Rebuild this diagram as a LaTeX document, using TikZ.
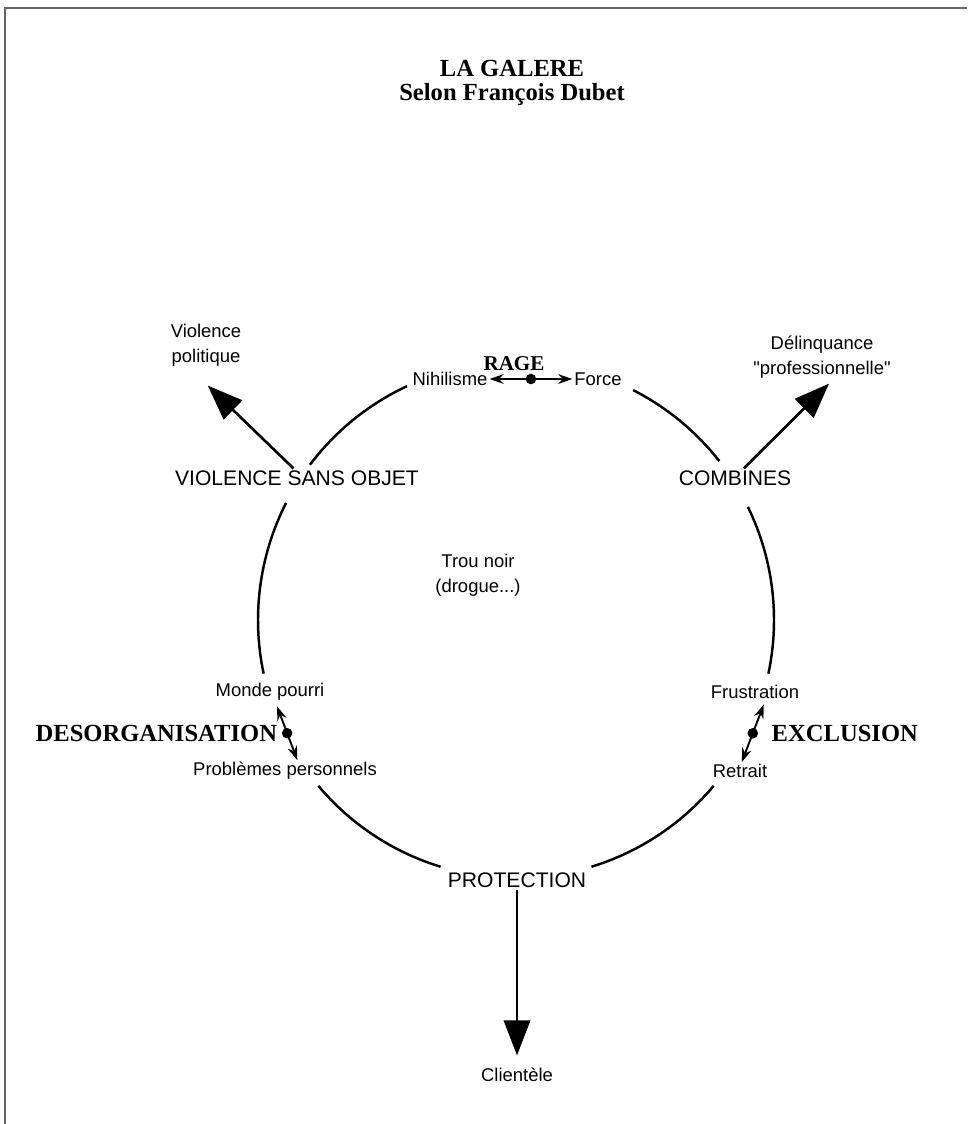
\documentclass[tikz,border=0pt]{standalone}
\usepackage{fontspec}
\setmainfont{Liberation Serif}
\setsansfont{Liberation Sans}[Ligatures=TeXOff]
\usetikzlibrary{arrows.meta,positioning}
\tikzset{
  titre/.style={font=\fontsize{14}{13.5}\selectfont\bfseries, align=center},
  etiq/.style={font=\sffamily\fontsize{10.5}{14}\selectfont, inner sep=1pt, align=center},
  majus/.style={font=\sffamily\fontsize{12}{14}\selectfont, inner sep=1pt},
  pole/.style={font=\fontsize{14}{15}\selectfont\bfseries, inner sep=1pt},
  cercle/.style={line width=1.4pt},
  fleche/.style={line width=1.5pt, -{Triangle[width=15pt,length=20pt]}},
  doublefl/.style={line width=1.1pt, {Stealth[length=8pt,width=5.5pt]}-{Stealth[length=8pt,width=5.5pt]}},
  pastille/.style={circle, fill, inner sep=0pt, minimum size=6pt},
}
\begin{document}
\begin{tikzpicture}[x=0.02cm, y=-0.02cm]
\useasboundingbox (0,0) rectangle (967,1124);
\coordinate (M) at (516,620);
% cadre
\draw[black!60, line width=1.1pt] (967,8) -- (5,8) -- (5,1124);
% titre
\node[titre] (galere) at (512,83) {LA GALERE\\Selon François Dubet};
% le cercle, interrompu aux etiquettes
\draw[cercle] (M) ++(217:258) arc[start angle=217, end angle=245, radius=258];
\draw[cercle] (M) ++(168:258) arc[start angle=168, end angle=207, radius=258];
\draw[cercle] (M) ++(107:258) arc[start angle=107, end angle=140, radius=258];
\draw[cercle] (M) ++(40:258) arc[start angle=40, end angle=73, radius=258];
\draw[cercle] (M) ++(-26:258) arc[start angle=-26, end angle=12, radius=258];
\draw[cercle] (M) ++(-63:258) arc[start angle=-63, end angle=-38, radius=258];
% etiquettes
\node[etiq] (nihil) at (450,379) {Nihilisme};
\node[etiq] (force) at (598,379) {Force};
\node[pole, font=\fontsize{12}{14}\selectfont\bfseries] (rage) at (514,364) {RAGE};
\node[majus] (vso) at (297,478) {VIOLENCE SANS OBJET};
\node[majus] (comb) at (735,478) {COMBINES};
\node[etiq] (vpol) at (206,345) {Violence\\politique};
\node[etiq] (delin) at (822,357) {Délinquance\\"professionnelle"};
\node[etiq] (trou) at (478,575) {Trou noir\\(drogue...)};
\node[etiq] (monde) at (270,692) {Monde pourri};
\node[etiq] (probs) at (285,771) {Problèmes personnels};
\node[etiq] (frust) at (755,692) {Frustration};
\node[etiq] (retrait) at (740,771) {Retrait};
\node[majus] (prot) at (517,880) {PROTECTION};
\node[etiq] (client) at (517,1075) {Clientèle};
% liens
\draw[doublefl] (nihil.east) -- (force.west) node[pastille, midway] (prage) {};
\draw[doublefl] ([xshift=4pt,yshift=-2pt]monde.south) -- ([xshift=7pt]probs.north)
  node[pastille, midway] (pdes) {};
\draw[doublefl] ([xshift=5pt,yshift=-2pt]frust.south) -- ([xshift=1pt]retrait.north)
  node[pastille, midway] (pexc) {};
\node[pole, left=1pt of pdes] (desorg) {DESORGANISATION};
\node[pole, right=6pt of pexc] (exclu) {EXCLUSION};
\draw[fleche] ([xshift=-2pt]vso.north) -- ([xshift=1pt,yshift=-10pt]vpol.south);
\draw[fleche] ([xshift=5pt]comb.north) -- ([xshift=4pt,yshift=-2pt]delin.south);
\draw[fleche, shorten >=6pt] (prot) -- (client);
\end{tikzpicture}
\end{document}
